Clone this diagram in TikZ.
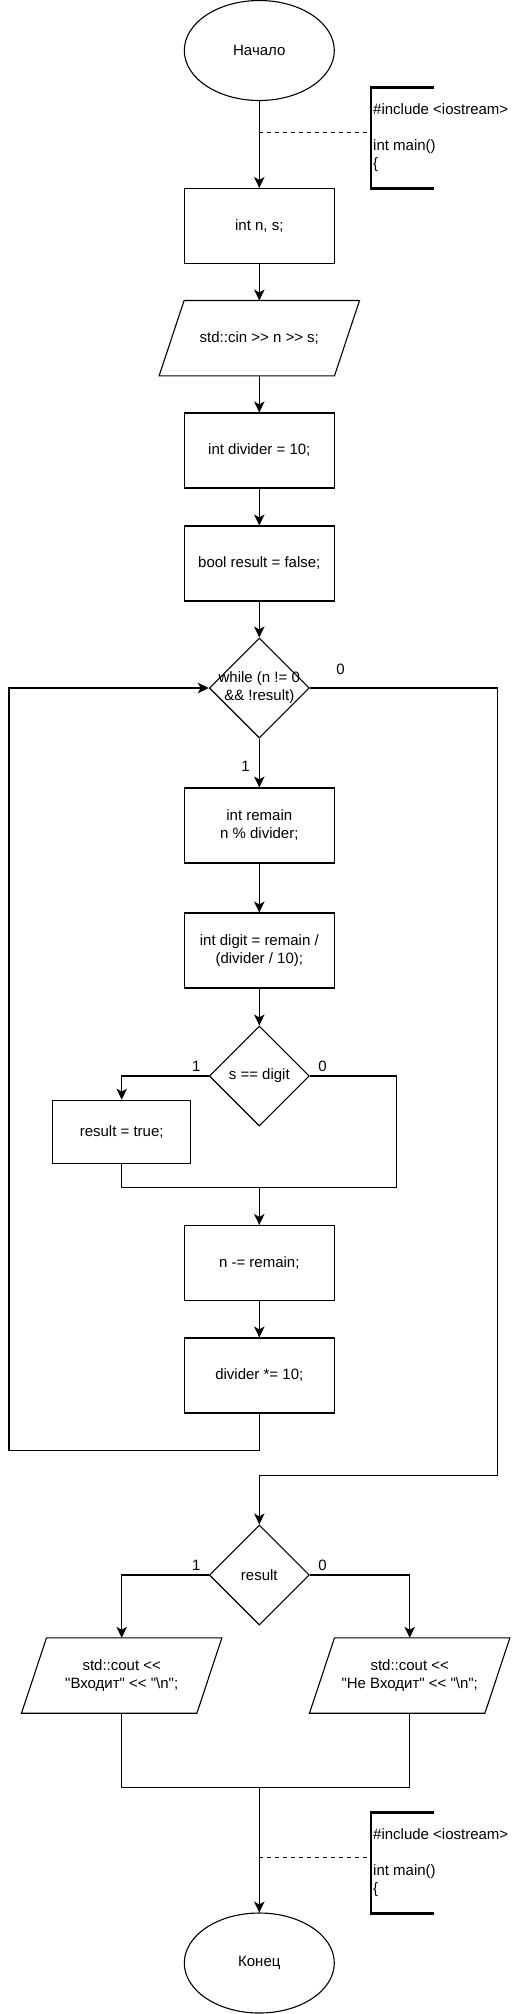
\documentclass[tikz,border=0pt]{standalone}
\usepackage{fontspec}
\newfontfamily\dfont{Liberation Sans}
\usetikzlibrary{shapes.geometric,arrows.meta}
\begin{document}
\begin{tikzpicture}[x=1pt,y=-1pt,
  ln/.style={line width=1.1pt},
  base/.style={font=\dfont\fontsize{15}{18}\selectfont, align=center, inner sep=0pt},
  box/.style={base, ln, draw, rectangle, minimum width=150pt, minimum height=75pt},
  ell/.style={base, ln, draw, ellipse, minimum width=150pt, minimum height=100pt},
  dia/.style={ln, draw, diamond, aspect=1, inner sep=0pt, minimum width=100pt, minimum height=100pt},
  par/.style={base, rectangle, minimum width=200pt, minimum height=75pt},
  arr/.style={ln, -{Stealth[length=11pt,width=10.5pt,inset=3pt]}},
  lbl/.style={base},
  cmtxt/.style={font=\dfont\fontsize{15}{18}\selectfont, align=left, inner xsep=2pt, inner ysep=0pt, anchor=west, minimum height=100.6pt},
  brk/.style={line width=2.5pt},
  dsh/.style={ln, dash pattern=on 4pt off 4pt}
]
\useasboundingbox (0,0) rectangle (512,2014);

% nodes
\node[ell] (start) at (259.3,50.5) {Начало};
\node[box] (b1) at (259.3,226) {int n, s;};
\node[par] (p1) at (259.3,338.2) {std::cin >> n >> s;};
\node[box] (b2) at (259.3,450.5) {int divider = 10;};
\node[box] (b3) at (259.3,563.5) {bool result = false;};
\node[dia, label={[base]center:{while (n != 0\\\&\& !result)}}] (d1) at (259.3,688) {};
\node[box] (b4) at (259.3,825.5) {int remain\\ n \% divider;};
\node[box] (b5) at (259.3,950.5) {int digit = remain /\\(divider / 10);};
\node[dia, label={[base]center:{s == digit}}] (d2) at (259.3,1076) {};
\node[box, minimum width=138pt, minimum height=63pt] (b6) at (121.7,1131.7) {result = true;};
\node[box] (b7) at (259.3,1263) {n -= remain;};
\node[box] (b8) at (259.3,1375.5) {divider *= 10;};
\node[dia, label={[base]center:{result}}] (d3) at (259.3,1575) {};
\node[par] (p2) at (121.7,1675.5) {std::cout <<\\"Входит" << "\textbackslash n";};
\node[par] (p3) at (409.7,1675.5) {std::cout <<\\"Не Входит" << "\textbackslash n";};
\node[ell] (end) at (259.3,1963) {Конец};

% parallelogram outlines
\foreach \p in {p1,p2,p3}{
  \draw[ln] ([xshift=25pt]\p.north west) -- (\p.north east) -- ([xshift=-25pt]\p.south east) -- (\p.south west) -- cycle;
}

% comments
\node[cmtxt] (c1) at (371,138) {\#include <iostream>\\[18pt]int main()\\\{};
\draw[brk] ([xshift=63pt]c1.north west) -- (c1.north west) -- (c1.south west) -- ([xshift=63pt]c1.south west);
\node[cmtxt] (c2) at (371,1863) {\#include <iostream>\\[18pt]int main()\\\{};
\draw[brk] ([xshift=63pt]c2.north west) -- (c2.north west) -- (c2.south west) -- ([xshift=63pt]c2.south west);

% coordinates
\coordinate (a1) at (259.3,132.7);
\coordinate (a2) at (259.3,1857.7);
\coordinate (r1) at (396.7,1076);
\coordinate (m1) at (259.3,1187.5);
\coordinate (lb) at (9,1450.7);
\coordinate (rb) at (497.3,1475.7);
\coordinate (m2) at (259.3,1475.7);
\coordinate (m3) at (259.3,1787.7);

% connectors
\draw[arr] (start) -- (b1);
\draw[dsh] (a1) -- (a1 -| c1.west);
\draw[arr] (b1) -- (p1);
\draw[arr] (p1) -- (b2);
\draw[arr] (b2) -- (b3);
\draw[arr] (b3) -- (d1);
\draw[arr] (d1) -- node[lbl, left=9pt, pos=.57] {1} (b4);
\draw[arr] (b4) -- (b5);
\draw[arr] (b5) -- (d2);
\draw[arr] (d2.west) -| node[lbl, pos=.072, above=4pt] {1} (b6);
\draw[ln] (d2.east) -- node[lbl, pos=.145, above=4pt] {0} (r1) |- (m1);
\draw[ln] (b6) |- (m1);
\draw[arr] (m1) -- (b7);
\draw[arr] (b7) -- (b8);
\draw[arr] (b8) |- (lb) |- (d1.west);
\draw[ln] (d1.east) -| node[lbl, pos=.082, above=13pt] {0} (rb) -- (m2);
\draw[arr] (m2) -- (d3);
\draw[arr] (d3.west) -| node[lbl, pos=.072, above=4pt] {1} (p2);
\draw[arr] (d3.east) -| node[lbl, pos=.063, above=4pt] {0} (p3);
\draw[ln] (p2) |- (m3);
\draw[ln] (p3) |- (m3);
\draw[arr] (m3) -- (end);
\draw[dsh] (a2) -- (a2 -| c2.west);
\end{tikzpicture}
\end{document}
